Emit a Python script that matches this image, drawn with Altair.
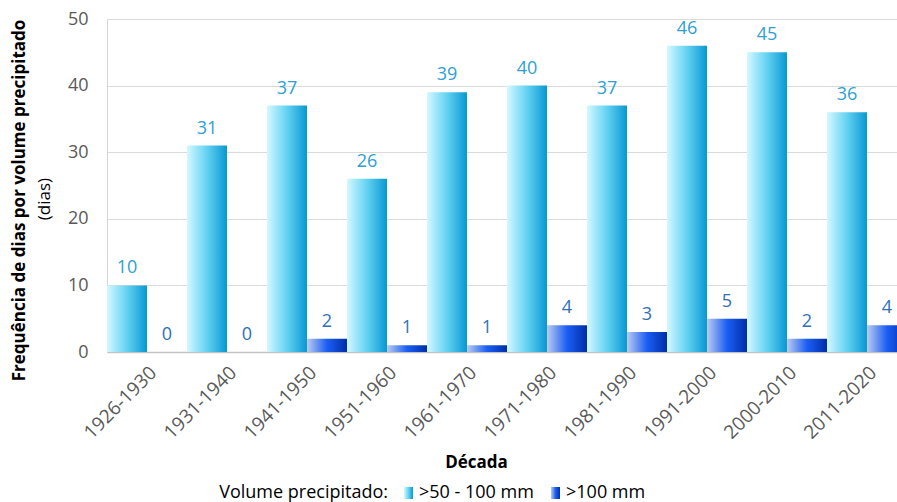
import altair as alt
import pandas as pd

# Number of days per decade by precipitated volume
decades = ["1926-1930", "1931-1940", "1941-1950", "1951-1960", "1961-1970",
           "1971-1980", "1981-1990", "1991-2000", "2000-2010", "2011-2020"]
series = [">50 - 100 mm", ">100 mm"]
days_50_100 = [10, 31, 37, 26, 39, 40, 37, 46, 45, 36]
days_over_100 = [0, 0, 2, 1, 1, 4, 3, 5, 2, 4]

FONT = "Open Sans"
W, H = 790, 333

light_df = pd.DataFrame({"decada": decades, "serie": series[0], "dias": days_50_100})
dark_df = pd.DataFrame({"decada": decades, "serie": series[1], "dias": days_over_100})

light_grad = alt.LinearGradient(
    gradient="linear", x1=0, x2=1, y1=0, y2=0,
    stops=[alt.GradientStop(color="#d4f8ff", offset=0),
           alt.GradientStop(color="#62d2f2", offset=0.5),
           alt.GradientStop(color="#0898d0", offset=1)])
dark_grad = alt.LinearGradient(
    gradient="linear", x1=0, x2=1, y1=0, y2=0,
    stops=[alt.GradientStop(color="#bccbee", offset=0),
           alt.GradientStop(color="#1a5ef5", offset=0.5),
           alt.GradientStop(color="#002fa6", offset=1)])

x_enc = alt.X(
    "decada:N", sort=decades,
    scale=alt.Scale(domain=decades, range=[0, 800], paddingInner=0, paddingOuter=0),
    axis=alt.Axis(title="Década", labelAngle=-45, labelPadding=11, ticks=False,
                  labelFontSize=19, labelColor="#595959", labelFont=FONT,
                  domainColor="#c4c4c4", domainWidth=1.5,
                  titleFont=FONT, titleFontSize=17, titleFontWeight="bold",
                  titleColor="#000000", titleX=369, titleY=110, titleBaseline="middle"),
)
y_enc = alt.Y(
    "dias:Q",
    scale=alt.Scale(domain=[0, 50], nice=False),
    axis=alt.Axis(values=[0, 10, 20, 30, 40, 50], ticks=False, labelPadding=19,
                  labelFontSize=18, labelColor="#595959", labelFont=FONT,
                  grid=True, gridColor="#dadada", domainColor="#d4d4d4",
                  title="Frequência de dias por volume precipitado",
                  titleFont=FONT, titleFontSize=17, titleFontWeight="bold",
                  titleColor="#000000", titleX=-88, titleY=181,
                  titleAlign="center", titleBaseline="middle", titleAngle=270),
)
off_enc = alt.XOffset("serie:N", sort=series,
                      scale=alt.Scale(domain=series, paddingInner=0, paddingOuter=0))

light_bars = alt.Chart(light_df).mark_bar(color=light_grad).encode(
    x=x_enc, y=y_enc, xOffset=off_enc)
dark_bars = alt.Chart(dark_df).mark_bar(color=dark_grad).encode(
    x=x_enc, y=y_enc, xOffset=off_enc)

light_labels = alt.Chart(light_df).mark_text(
    font=FONT, fontSize=18, color="#2fa0d2", baseline="alphabetic", dy=-12
).encode(x=x_enc, y=y_enc, xOffset=off_enc, text="dias:Q")
dark_labels = alt.Chart(dark_df).mark_text(
    font=FONT, fontSize=18, color="#2f70b8", baseline="alphabetic", dy=-12
).encode(x=x_enc, y=y_enc, xOffset=off_enc, text="dias:Q")

# second line of the y-axis title, in regular weight
unit_title = alt.Chart(pd.DataFrame({"t": ["(dias)"]})).mark_text(
    font=FONT, fontSize=17, color="#000000", angle=270, baseline="middle", align="center"
).encode(text="t:N", x=alt.value(-62), y=alt.value(180))

# legend row below the axis title
legend_title = alt.Chart(pd.DataFrame({"t": ["Volume precipitado:"]})).mark_text(
    font=FONT, fontSize=18, color="#000000", align="right", baseline="middle"
).encode(text="t:N", x=alt.value(281), y=alt.value(474))
legend_labels = alt.Chart(pd.DataFrame({"t": series, "px": [312, 459]})).mark_text(
    font=FONT, fontSize=18, color="#000000", align="left", baseline="middle"
).encode(text="t:N", x=alt.X("px:Q", scale=None), y=alt.value(474))
key_light = alt.Chart(pd.DataFrame({"k": [series[0]]})).mark_rect(color=light_grad).encode(
    x=alt.value(297), x2=alt.value(306), y=alt.value(468), y2=alt.value(480))
key_dark = alt.Chart(pd.DataFrame({"k": [series[1]]})).mark_rect(color=dark_grad).encode(
    x=alt.value(444), x2=alt.value(453), y=alt.value(468), y2=alt.value(480))

chart = alt.layer(
    light_bars, dark_bars, light_labels, dark_labels, unit_title,
    legend_title, legend_labels, key_light, key_dark
).properties(
    width=W, height=H,
    autosize=alt.AutoSizeParams(type="none"),
    padding={"left": 107, "top": 19, "right": 0, "bottom": 150},
).configure_view(stroke=None)

chart.save("out.html", embed_options={"renderer": "svg", "actions": False})
